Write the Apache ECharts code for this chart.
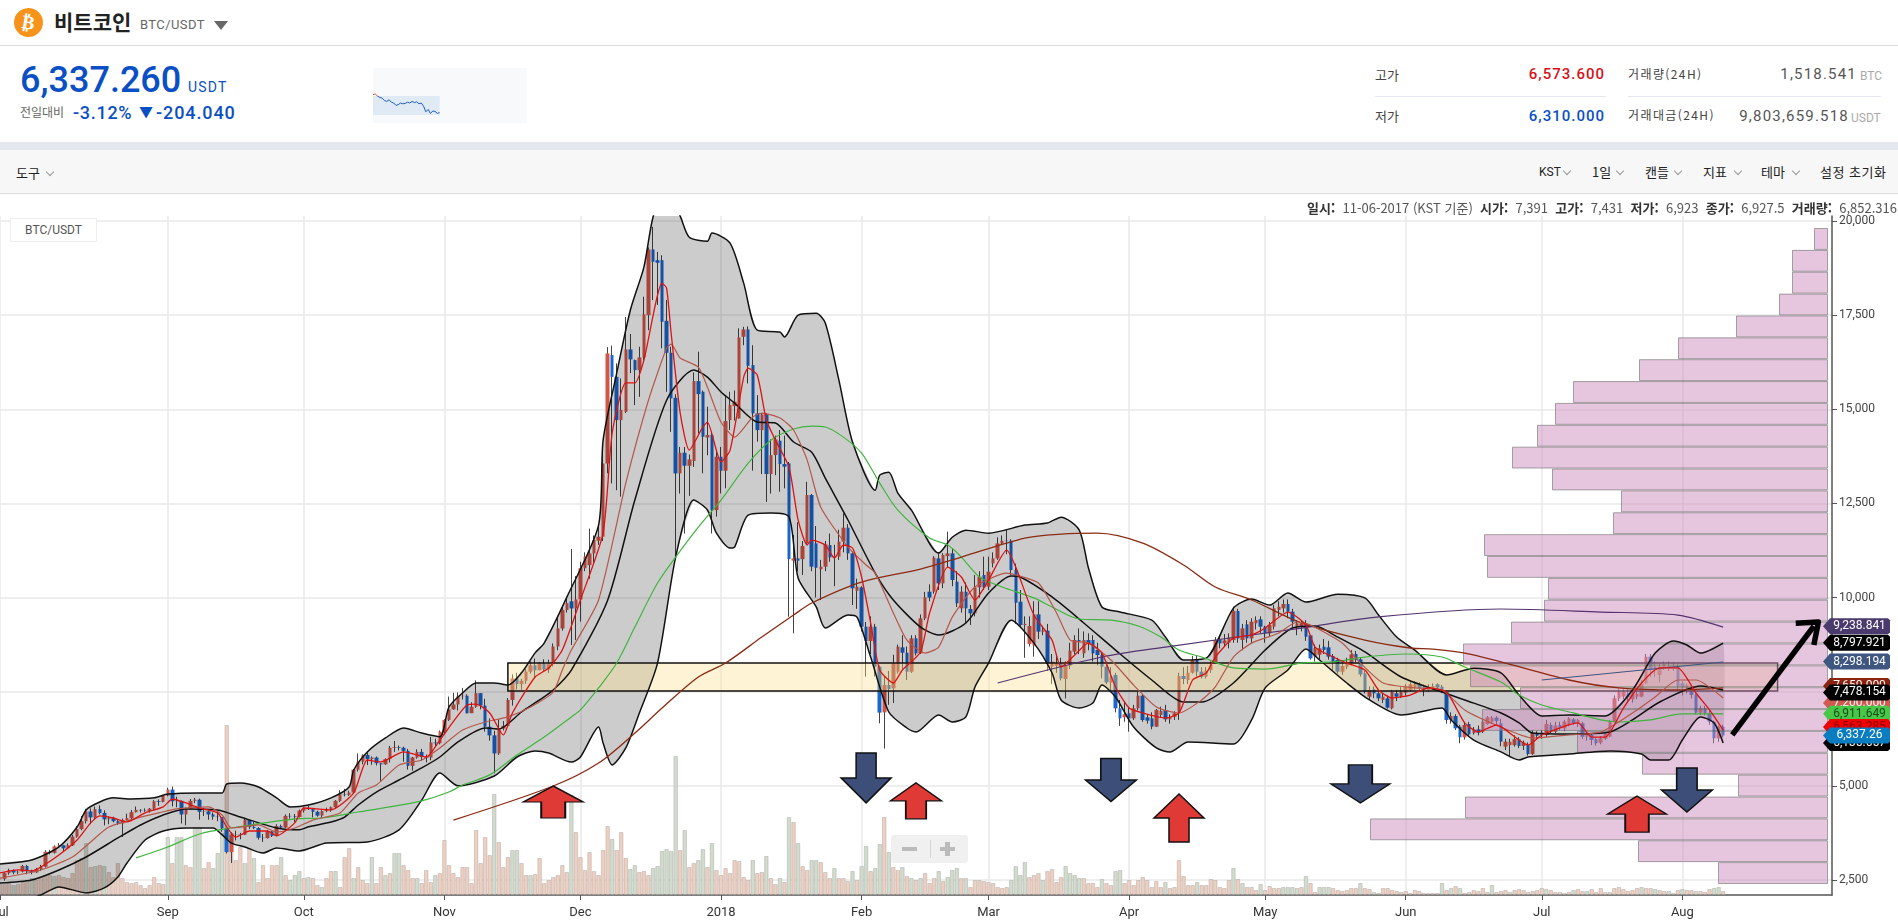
<!DOCTYPE html>
<html lang="ko"><head><meta charset="utf-8"><title>BTC/USDT</title>
<script src="https://cdn.jsdelivr.net/npm/echarts@6/dist/echarts.min.js"></script>
<style>
html,body{margin:0;padding:0;width:1898px;height:921px;overflow:hidden;background:#fff;font-family:Roboto,"Noto Sans CJK KR",sans-serif;color:#333}
#main{position:absolute;left:0;top:0;width:1898px;height:921px}
.a{position:absolute;white-space:nowrap;line-height:1}
.kr{font-family:"Noto Sans CJK KR",sans-serif}
.chev{position:absolute;width:5px;height:5px;border-right:1px solid #999;border-bottom:1px solid #999;transform:rotate(45deg)}
</style></head><body>
<div id="main"></div>
<div class="a" style="left:0;top:0;width:1898px;height:142px;background:#fff"></div>
<div class="a" style="left:0;top:45px;width:1898px;height:1px;background:#dcdcdc"></div>
<div class="a" style="left:14px;top:8px;width:29px;height:29px;border-radius:50%;background:#f7931a;color:#fff;font:bold 19px/29px 'DejaVu Sans';text-align:center;transform:rotate(10deg)">₿</div>
<div class="a kr" style="left:54px;top:11px;font-size:21px;font-weight:700;color:#222">비트코인</div>
<div class="a" style="left:140px;top:18px;font-size:13px;color:#666;letter-spacing:.4px">BTC/USDT</div>
<div class="a" style="left:214px;top:21px;width:0;height:0;border-left:7px solid transparent;border-right:7px solid transparent;border-top:9px solid #666"></div>
<div class="a" style="left:20px;top:62px;font-size:36px;font-weight:500;color:#0b4fc4">6,337.260</div>
<div class="a" style="left:188px;top:80px;font-size:14px;color:#0b4fc4;letter-spacing:1.2px">USDT</div>
<div class="a kr" style="left:20px;top:106px;font-size:12px;color:#666">전일대비</div>
<div class="a" style="left:73px;top:104px;font-size:18px;font-weight:500;color:#0b4fc4;letter-spacing:.7px">-3.12%</div>
<div class="a" style="left:139px;top:105px;font-size:14px;color:#0b4fc4">▼</div>
<div class="a" style="left:156px;top:104px;font-size:18px;font-weight:500;color:#0b4fc4;letter-spacing:.9px">-204.040</div>
<div id="spark" class="a" style="left:373px;top:68px;width:154px;height:55px"></div>
<div class="a kr" style="left:1375px;top:68px;font-size:13px;color:#444">고가</div>
<div class="a" style="left:1500px;width:105px;text-align:right;top:67px;font-size:15px;font-weight:500;color:#d6121a;letter-spacing:1px">6,573.600</div>
<div class="a" style="left:1375px;top:96px;width:231px;height:1px;background:#e4e6f0"></div>
<div class="a kr" style="left:1375px;top:109px;font-size:13px;color:#444">저가</div>
<div class="a" style="left:1500px;width:105px;text-align:right;top:109px;font-size:15px;font-weight:500;color:#0b4fc4;letter-spacing:1px">6,310.000</div>
<div class="a kr" style="left:1628px;top:68px;font-size:12px;color:#444;letter-spacing:1.4px">거래량(24H)</div>
<div class="a" style="left:1740px;width:117px;text-align:right;top:67px;font-size:15px;color:#555;letter-spacing:1.2px">1,518.541</div>
<div class="a" style="left:1860px;top:70px;font-size:12px;color:#aaa">BTC</div>
<div class="a" style="left:1628px;top:96px;width:253px;height:1px;background:#e4e6f0"></div>
<div class="a kr" style="left:1628px;top:109px;font-size:12px;color:#444;letter-spacing:1.4px">거래대금(24H)</div>
<div class="a" style="left:1720px;width:129px;text-align:right;top:109px;font-size:15px;color:#555;letter-spacing:1.2px">9,803,659.518</div>
<div class="a" style="left:1851px;top:112px;font-size:12px;color:#aaa">USDT</div>
<div class="a" style="left:0;top:142px;width:1898px;height:8px;background:#e4e8ee"></div>
<div class="a" style="left:0;top:150px;width:1898px;height:43px;background:#f7f7f7;border-bottom:1px solid #ddd"></div>
<div class="a kr" style="left:16px;top:166px;font-size:13px;color:#222">도구</div><div class="chev" style="left:47px;top:169px"></div>
<div class="a" style="left:1539px;top:166px;font-size:12px;color:#222">KST</div><div class="chev" style="left:1564px;top:168px"></div>
<div class="a kr" style="left:1592px;top:165px;font-size:13px;color:#222">1일</div><div class="chev" style="left:1617px;top:168px"></div>
<div class="a kr" style="left:1645px;top:165px;font-size:13px;color:#222">캔들</div><div class="chev" style="left:1675px;top:168px"></div>
<div class="a kr" style="left:1703px;top:165px;font-size:13px;color:#222">지표</div><div class="chev" style="left:1735px;top:168px"></div>
<div class="a kr" style="left:1761px;top:165px;font-size:13px;color:#222">테마</div><div class="chev" style="left:1793px;top:168px"></div>
<div class="a kr" style="left:1820px;top:165px;font-size:13px;color:#222;letter-spacing:.5px">설정 초기화</div>
<div class="a kr" style="right:1px;top:201px;font-size:13px;color:#555"><b style="color:#333">일시:</b>&nbsp; 11-06-2017 (KST 기준) &nbsp;<b style="color:#333">시가:</b>&nbsp; 7,391 &nbsp;<b style="color:#333">고가:</b>&nbsp; 7,431 &nbsp;<b style="color:#333">저가:</b>&nbsp; 6,923 &nbsp;<b style="color:#333">종가:</b>&nbsp; 6,927.5 &nbsp;<b style="color:#333">거래량:</b>&nbsp; 6,852.316</div>
<div class="a" style="left:10px;top:218px;width:85px;height:22px;background:#fff;border:1px solid #eee;font-size:12px;line-height:22px;text-align:center;color:#555">BTC/USDT</div>
<div class="a" style="left:891px;top:835px;width:77px;height:28px;background:rgba(225,225,225,.5);border-radius:3px"></div>
<div class="a" style="left:902px;top:847px;width:15px;height:4px;background:#bbb"></div>
<div class="a" style="left:930px;top:840px;width:1px;height:18px;background:#d4d4d4"></div>
<div class="a" style="left:940px;top:847px;width:15px;height:4px;background:#bbb"></div>
<div class="a" style="left:945px;top:842px;width:5px;height:14px;background:#bbb"></div>
<script>
// ---- axes ----
const firstDay = '2017-07-26';
const dayCount = 405;
const monthTickDays = [0, 37, 67, 98, 128, 159, 190, 218, 249, 279, 310, 340, 371];
const monthTickLabels = ['Jul','Sep','Oct','Nov','Dec','2018','Feb','Mar','Apr','May','Jun','Jul','Aug'];
const priceTicks = [2500,5000,7500,10000,12500,15000,17500,20000];
const priceMin = 2100, priceMax = 20133;

// ---- candles: [open, close, low, high], month by month ----
const candlesJul17 = [[2520,2530,2450,2610],[2530,2680,2480,2700],[2680,2760,2640,2800],[2760,2700,2650,2780],[2700,2720,2660,2760],[2720,2870,2700,2900]];
const candlesAug17 = [[2870,2730,2650,2900],[2730,2700,2650,2770],[2700,2790,2690,2820],[2790,2850,2740,2900],[2850,3250,2830,3290],[3250,3220,3180,3300],[3220,3390,3200,3420],[3390,3420,3360,3480],[3420,3340,3250,3430],[3340,3420,3320,3470],[3420,3650,3400,3700],[3650,3850,3620,3930],[3850,4060,3820,4200],[4060,4320,4000,4390],[4320,4160,3980,4400],[4160,4380,4120,4450],[4380,4280,4240,4480],[4280,4110,3950,4350],[4110,4140,3980,4190],[4140,4060,4030,4180],[4060,4000,3960,4090],[4000,4090,3640,4130],[4090,4140,4080,4260],[4140,4300,4110,4360],[4300,4360,4290,4450],[4360,4350,4290,4380],[4350,4340,4310,4400],[4340,4390,4290,4410],[4390,4590,4360,4620],[4590,4570,4470,4640],[4570,4740,4560,4760]];
const candlesSep17 = [[4740,4900,4720,4950],[4900,4590,4450,4980],[4590,4600,4430,4710],[4600,4240,4000,4610],[4240,4390,3950,4430],[4390,4600,4380,4650],[4600,4630,4540,4680],[4630,4310,4100,4660],[4310,4320,4200,4400],[4320,4240,4100,4340],[4240,4180,4100,4290],[4180,4170,4060,4340],[4170,3870,3780,4170],[3870,3240,3200,3880],[3240,3700,2950,3760],[3700,3710,3550,3810],[3710,3700,3580,3750],[3700,4090,3690,4120],[4090,3910,3850,4100],[3910,3880,3850,4040],[3880,3620,3570,3900],[3620,3610,3510,3720],[3610,3790,3600,3820],[3790,3670,3640,3790],[3670,3930,3660,3980],[3930,3890,3860,3970],[3890,4200,3880,4240],[4200,4190,4130,4270],[4190,4170,4040,4250],[4170,4340,4160,4370]];
const candlesOct17 = [[4340,4400,4290,4430],[4400,4380,4360,4470],[4380,4310,4160,4400],[4310,4210,4180,4340],[4210,4330,4140,4350],[4330,4370,4300,4420],[4370,4430,4310,4450],[4430,4600,4410,4620],[4600,4770,4570,4880],[4770,4760,4720,4920],[4760,4820,4730,4870],[4820,5430,4810,5440],[5430,5640,5380,5860],[5640,5820,5570,5840],[5820,5710,5550,5880],[5710,5750,5560,5780],[5750,5600,5540,5780],[5600,5570,5110,5600],[5570,5710,5560,5730],[5710,6010,5620,6060],[6010,6030,5900,6190],[6030,6010,5940,6070],[6010,5930,5640,6040],[5930,5530,5430,5980],[5530,5750,5400,5770],[5750,5900,5720,5970],[5900,5770,5670,5980],[5770,5750,5620,5830],[5750,6150,5680,6300],[6150,6130,6040,6250],[6130,6440,6100,6470]];
const candlesNov17 = [[6440,6750,6360,6770],[6750,7030,6720,7370],[7030,7160,7020,7470],[7160,7380,7000,7480],[7380,7391,7290,7600],[7391,6927.5,6923,7431],[6930,7100,6930,7220],[7100,7460,7070,7800],[7460,7130,7030,7460],[7130,6570,6440,7310],[6570,6340,6200,6790],[6340,5860,5330,6460],[5860,6520,5820,6760],[6520,6590,6470,6720],[6590,7280,6590,7330],[7280,7850,7130,7960],[7850,7700,7560,8000],[7700,7790,7550,7840],[7790,8030,7710,8100],[8030,8200,7980,8300],[8200,8070,7880,8380],[8070,8250,8070,8290],[8250,8090,8020,8360],[8090,8230,8000,8350],[8230,8700,8170,8780],[8700,9180,8600,9500],[9180,9670,9120,9750],[9670,9850,9600,9990],[9900,9710,8740,11290],[9710,9950,8870,10570]];
const candlesDec17 = [[9950,10780,9360,10950],[10780,11085,10700,11200],[10860,11170,10500,11830],[11170,11530,10900,11650],[11510,11616,11400,11900],[11616,13560,11500,13950],[13560,16483,13300,16650],[16440,15860,13030,16690],[15860,14713,12850,16220],[14713,14980,12680,15820],[14934,16590,14900,17450],[16590,16324,15960,17000],[16306,16040,15110,16320],[16040,16377,15330,16660],[16377,17518,16300,17990],[17500,19244,17100,19300],[19244,18917,17900,19845],[18960,18890,17770,19180],[18960,17324,16620,19090],[17350,16500,15465,17900],[16500,15290,14400,16660],[15306,13297,11085,15400],[13297,13846,12760,14000],[13846,13500,11700,14000],[13500,13669,12700,13800],[13625,15748,13470,15980],[15748,15403,14360,16530],[15465,14270,13300,15500],[14253,14315,13780,15070],[14315,12323,11700,14400],[12323,13740,12150,13900]];
const candlesJan18 = [[13740,13368,12765,14000],[13368,14686,12900,15375],[14713,15111,14450,15465],[15085,15200,14700,15500],[14757,16908,14750,17150],[16925,17120,16700,17190],[17120,16155,15687,17200],[16173,14890,13370,16700],[14890,14447,14140,15375],[14447,14863,13280,14900],[14863,13280,12540,14900],[13280,13784,12760,14200],[13784,14200,13250,14300],[14165,13545,12810,14450],[13545,13475,12900,14300],[13563,11020,9490,13600],[10980,11040,9050,11660],[11040,10980,10700,12000],[11020,11368,10600,11500],[11440,12722,11400,13075],[12722,10820,10700,12750],[11440,10790,10000,11900],[10750,10820,9934,11000],[10820,11412,10700,11500],[11394,11067,10950,11700],[11067,11100,10300,11400],[11085,11483,11000,11800],[11483,11855,11200,12234],[11855,11173,11000,11950],[11173,10245,9800,11200],[10180,10290,9700,10500]];
const candlesFeb18 = [[10270,9226,9100,10300],[9226,8845,7900,9350],[8845,9226,8500,9500],[9226,8164,7900,9300],[8164,6943,6660,8200],[6950,7677,5990,7900],[7677,7570,7150,8050],[7589,8250,7200,8480],[8030,8695,7980,8750],[8677,8535,8100,9000],[8535,8030,7810,8700],[8030,8916,8000,9000],[8916,8518,8460,9000],[8518,9447,8500,9550],[9447,10005,9400,10150],[10155,10000,9900,10350],[10155,11058,10100,11100],[11040,10376,10200,11200],[10376,11129,10250,11180],[11100,11173,10800,11750],[11173,10465,10300,11300],[10420,9846,9750,10700],[9713,10155,9600,10300],[10155,9713,9300,10400],[9695,9580,9270,9800],[9580,10270,9500,10600],[10270,10553,10000,10700],[10598,10270,10200,11085]];
const candlesMar18 = [[10288,10686,10200,11085],[10907,11040,10800,11200],[11040,11438,11000,11600],[11438,11509,11400,11650],[11509,11500,11150,11800],[11509,10730,10600,11550],[10730,9863,9300,10900],[9890,9270,9200,10200],[9270,9300,8400,9500],[8766,9244,8700,9500],[8722,9553,8430,9900],[9553,9093,8900,9900],[9093,9130,9000,9250],[9120,8250,8050,9300],[8164,8297,7700,8500],[8190,8250,8000,8500],[8250,7855,7800,8400],[7836,8190,7320,8300],[8190,8589,8100,8800],[8562,8872,8500,9000],[8872,8830,8500,9180],[8518,8872,8400,9100],[8872,8783,8600,9050],[8872,8518,8300,9000],[8607,8474,8200,8800],[8474,8164,7854,8550],[8164,7748,7700,8300],[7740,7898,7500,8150],[7943,7058,6950,8000],[7058,6792,6590,7280],[6820,6898,6700,7250]];
const candlesApr18 = [[6925,6792,6438,7100],[6792,7058,6750,7150],[7058,7394,7000,7500],[7394,6748,6700,7420],[6819,6730,6650,6900],[6792,6571,6500,6950],[6571,7013,6560,7040],[6881,6987,6800,7100],[7013,6766,6700,7150],[6766,6819,6650,6900],[6836,6925,6750,6980],[6970,7916,6750,8000],[7916,7836,7700,8150],[7810,8005,7700,8180],[8005,8341,7980,8450],[8359,8031,7900,8450],[8031,7898,7850,8150],[7898,8058,7850,8150],[8075,8208,8000,8300],[8270,8872,8250,8950],[8872,8783,8650,9000],[8783,8860,8700,9030],[8801,8943,8650,9050],[8872,9642,8800,9760],[9642,8916,8800,9700],[8872,9182,8600,9300],[9288,8916,8800,9400],[8916,9359,8800,9450],[9314,9403,9150,9500],[9421,9226,9050,9500]];
const candlesMay18 = [[9226,9049,8800,9250],[9049,9270,8950,9350],[9226,9713,9150,9800],[9668,9757,9500,9900],[9713,9828,9600,9950],[9828,9624,9450,9950],[9624,9359,9200,9700],[9226,9314,9000,9400],[9226,9314,9100,9400],[9314,8960,8850,9400],[8995,8385,8350,9000],[8430,8650,8300,8750],[8480,8650,8350,8750],[8695,8607,8500,8900],[8677,8430,8350,8850],[8447,8297,8050,8500],[8341,8031,7980,8400],[8031,8182,7950,8280],[8164,8250,8100,8400],[8250,8491,8200,8600],[8500,8341,8280,8580],[8359,7960,7900,8400],[7987,7500,7450,8050],[7368,7545,7280,7640],[7562,7456,7330,7640],[7456,7323,7250,7500],[7279,7368,7200,7450],[7323,7075,7050,7400],[7058,7500,7030,7550],[7456,7368,7250,7550],[7368,7500,7330,7620]];
const candlesJun18 = [[7474,7633,7400,7700],[7545,7695,7500,7750],[7610,7695,7550,7780],[7695,7589,7500,7750],[7620,7545,7380,7690],[7545,7600,7500,7700],[7600,7650,7550,7720],[7695,7610,7540,7720],[7633,7545,7470,7680],[7500,6748,6650,7520],[6748,6854,6650,6950],[6854,6527,6480,6900],[6571,6288,6128,6620],[6288,6615,6230,6700],[6642,6367,6300,6700],[6400,6500,6360,6560],[6500,6412,6340,6600],[6438,6704,6400,6780],[6642,6819,6620,6850],[6690,6810,6650,6850],[6810,6720,6630,6850],[6660,6173,6050,6780],[6040,6173,5950,6250],[6080,6170,5760,6250],[6080,6240,6040,6340],[6235,6058,6000,6290],[6058,6145,5950,6200],[6084,5845,5800,6150],[5845,6394,5820,6480],[6394,6330,6250,6450]];
const candlesJul18 = [[6412,6350,6250,6480],[6350,6642,6300,6750],[6615,6438,6400,6680],[6438,6600,6400,6700],[6615,6527,6470,6700],[6527,6704,6450,6750],[6615,6792,6580,6820],[6765,6660,6620,6800],[6640,6750,6560,6770],[6660,6305,6250,6700],[6305,6390,6200,6420],[6350,6217,6080,6400],[6235,6130,6070,6280],[6146,6261,6100,6320],[6250,6380,6220,6420],[6305,6704,6290,6750],[6704,7323,6680,7400],[7323,7500,7250,7600],[7367,7500,7300,7600],[7450,7350,7250,7570],[7297,7456,7210,7560],[7367,7440,7300,7520],[7367,7721,7350,7800],[7721,8430,7700,8500],[8430,8075,7900,8500],[8170,8075,7900,8300],[7943,8146,7750,8250],[8120,8235,8080,8300],[8182,8120,8050,8300],[8120,8182,8050,8280],[8182,7633,7550,8230]];
const candlesAug18 = [[7721,7633,7400,7780],[7590,7680,7450,7720],[7589,7412,7320,7620],[7412,6943,6900,7450],[6943,7058,6880,7120],[7058,6925,6870,7120],[6925,6704,6620,7000],[6704,6261,6130,6730],[6261,6571,6170,6600],[6571,6337.26,6290,6620]];
const candleMonths = [candlesJul17,candlesAug17,candlesSep17,candlesOct17,candlesNov17,candlesDec17,candlesJan18,candlesFeb18,candlesMar18,candlesApr18,candlesMay18,candlesJun18,candlesJul18,candlesAug18];

// ---- volume, in lots of 245 BTC ----
const volumes = [11,11,12,10,11,13,15,17,15,18,20,20,19,20,18,17,22,35,37,52,28,29,30,29,23,18,32,17,13,12,13,10,7,10,18,12,11,
58,32,58,58,30,28,68,68,27,33,27,42,62,170,62,35,48,32,47,37,13,30,17,30,30,38,20,15,20,24,
17,18,17,10,8,17,24,24,8,38,47,17,28,15,12,38,12,28,20,22,42,42,30,25,17,17,12,25,13,20,22,
55,30,22,18,28,28,12,65,32,58,40,101,53,28,38,45,45,32,20,20,21,37,12,15,18,20,30,23,100,63,
38,25,43,24,20,45,69,56,45,63,37,26,30,23,24,20,27,29,44,46,44,139,45,65,28,32,35,46,28,52,25,
20,27,22,35,34,18,15,35,22,23,39,17,11,17,13,78,73,52,29,25,35,35,33,23,17,27,17,17,14,24,15,
29,49,24,27,51,78,43,28,25,28,19,17,15,17,22,12,17,24,14,18,25,27,17,17,8,15,15,14,
13,12,8,7,8,15,29,20,33,18,20,22,15,24,26,13,18,29,22,20,17,17,12,12,8,16,12,10,24,25,12,
15,10,15,18,15,8,14,8,13,7,8,35,19,10,10,13,10,10,16,15,8,7,15,27,16,12,8,8,5,11,
5,9,7,7,8,8,8,7,8,19,12,3,8,8,8,7,5,4,5,7,7,12,7,6,3,2,7,7,5,4,3,
4,2,5,4,2,2,2,2,12,5,7,9,7,2,3,5,4,7,3,10,3,4,5,3,5,6,5,3,4,5,
7,6,5,3,3,2,3,5,6,4,4,6,3,7,3,3,7,8,6,4,5,7,8,7,7,6,5,4,4,2,5,
6,5,5,4,4,3,6,7,8,4];
const greenVolumeDays = [3,7,12,19,21,23,37,39,40,43,44,47,48,49,54,56,62,64,65,66,68,71,74,78,82,85,87,88,92,96,109,113,114,117,126,135,139,140,144,145,146,147,148,149,151,154,155,157,166,169,172,174,176,179,180,184,188,190,191,193,194,196,199,201,203,207,209,210,211,213,223,224,225,226,230,235,236,237,238,243,246,247,257,264,272,274,278,283,284,285,286,288,291,292,293,300,303,318,320,322,329,333,341,345,347,350,355,362,365,368,371,374,378,379];

const bbUpper = [[0,2925],[7,3030],[13,3380],[17,3905],[19,4360],[22,4570],[25,4680],[29,4650],[34,4680],[37,4780],[44,4810],[49,4810],[50,5050],[53,5075],[57,4970],[61,4680],[64,4440],[68,4490],[73,4680],[77,4970],[78,5420],[81,5900],[85,6270],[89,6535],[93,6400],[97,6300],[99,7090],[102,7465],[105,7730],[109,7730],[112,7675],[115,8000],[118,8530],[120,8790],[125,10010],[132,11925],[133,14180],[136,15960],[139,17630],[142,18775],[144,20100],[146,20550],[148,20550],[150,20130],[152,19570],[156,19460],[157,19680],[161,19410],[164,18350],[167,17100],[172,17050],[173,16920],[176,17500],[180,17550],[182,17290],[185,15775],[188,14130],[193,12850],[194,13250],[196,13330],[198,12775],[201,12320],[207,11180],[210,11600],[213,11790],[218,11710],[226,11925],[231,11980],[234,12135],[238,11790],[240,10800],[243,9750],[247,9615],[254,9400],[257,8950],[261,8340],[266,8390],[272,9720],[276,9960],[280,9800],[284,10120],[288,9880],[295,10090],[301,9990],[304,9535],[308,8950],[312,8605],[319,7945],[325,8125],[331,8000],[335,7410],[340,6855],[346,6880],[354,6855],[360,7545],[365,8525],[369,8845],[372,8740],[375,8525],[380,8790]];
const bbLower = [[0,1700],[9,2100],[13,2315],[19,2155],[23,2290],[26,2580],[28,2950],[32,3560],[36,3800],[41,3880],[47,3880],[49,3695],[51,3480],[54,3375],[58,3215],[61,3350],[66,3270],[72,3480],[81,3510],[88,3830],[93,4620],[97,5340],[101,5000],[109,5260],[114,5765],[118,5925],[121,5870],[126,5630],[128,5765],[132,6560],[133,6135],[135,5555],[138,6005],[141,6935],[145,8260],[149,11075],[153,12590],[156,12325],[158,11710],[161,11315],[162,11340],[165,12190],[170,12245],[174,12140],[176,10520],[180,9750],[182,9190],[187,9535],[189,9480],[192,8420],[196,6960],[200,6535],[202,6430],[207,6880],[210,6695],[213,6830],[215,7625],[218,8260],[223,9400],[228,8790],[232,7995],[234,7280],[238,7065],[241,7200],[243,7675],[246,7360],[250,6560],[255,6005],[258,5900],[262,6165],[272,6110],[276,6750],[279,7600],[284,8075],[288,8630],[291,8340],[297,7730],[302,7280],[309,6880],[318,7065],[320,6750],[325,6215],[331,5900],[335,5685],[337,5765],[346,5845],[355,5925],[362,5845],[364,5685],[368,5685],[371,6215],[375,6830],[378,6670],[380,6135]];
const bbMiddle = [[0,2420],[7,2500],[13,2765],[19,3110],[26,3615],[31,3960],[36,4225],[41,4385],[48,4360],[53,4170],[61,3880],[66,3830],[68,3910],[73,4040],[76,4170],[79,4490],[83,4835],[88,5155],[93,5475],[97,5765],[101,6165],[107,6535],[110,6510],[115,6960],[119,7280],[122,7545],[126,8075],[134,9930],[140,12590],[147,15240],[153,16040],[156,15855],[159,15460],[162,15165],[167,14660],[171,14635],[175,14130],[179,13860],[182,13170],[187,12060],[193,10650],[197,9935],[203,9215],[207,9005],[213,9325],[218,10120],[223,10570],[225,10545],[232,10015],[239,9325],[246,8605],[254,7810],[261,7225],[265,7225],[272,7730],[279,8605],[285,9190],[290,9245],[295,8950],[301,8555],[309,7890],[318,7490],[323,7280],[331,6935],[335,6670],[338,6400],[346,6375],[355,6430],[360,6750],[366,7225],[375,7650],[380,7545]];
const maFast = [[0,2685],[4,2765],[7,2740],[9,2845],[13,3165],[17,3560],[20,4015],[22,4200],[25,4145],[28,4040],[32,4280],[36,4440],[38,4650],[41,4545],[44,4410],[48,4280],[50,3905],[52,3640],[55,3800],[59,3800],[61,3670],[65,4015],[67,4410],[73,4360],[78,4810],[81,5685],[84,5635],[89,5900],[94,5765],[97,6215],[103,7145],[105,7170],[108,6935],[111,6350],[113,6935],[118,7890],[121,8130],[124,8605],[128,9935],[133,11710],[135,14370],[138,15700],[140,15700],[142,16305],[146,18350],[147,18220],[148,17025],[150,14900],[152,13915],[155,14530],[156,14660],[159,13600],[161,13915],[164,15855],[165,16095],[167,15905],[169,14715],[171,14180],[174,13465],[176,12060],[178,11395],[179,11525],[182,11395],[184,11050],[186,11395],[188,11315],[190,10545],[192,9325],[194,8075],[197,7730],[199,8075],[203,8555],[205,9590],[209,10810],[212,10545],[215,9935],[218,10465],[222,11260],[224,10810],[228,9535],[232,8870],[234,8155],[237,8475],[240,8790],[243,8525],[246,7625],[249,7065],[252,6935],[257,6800],[260,6935],[263,7810],[266,7995],[268,8420],[272,8925],[276,9005],[279,9190],[284,9615],[288,9270],[290,8685],[294,8420],[297,8260],[301,8075],[304,7545],[307,7330],[311,7410],[315,7600],[319,7490],[323,6670],[326,6430],[330,6615],[337,6085],[340,6350],[348,6670],[351,6295],[354,6295],[358,7065],[362,7730],[366,8130],[370,8130],[374,7465],[377,7015],[380,6480]];
const maSlow = [[0,2550],[9,2765],[16,3110],[21,3615],[24,3905],[31,4170],[35,4280],[39,4385],[46,4440],[49,4225],[51,3880],[57,3960],[61,3775],[65,3880],[69,4090],[75,4280],[79,4810],[83,5020],[88,5555],[93,5685],[97,6005],[102,6480],[107,6695],[112,6830],[117,7095],[122,7490],[124,8075],[126,8605],[132,9935],[138,13040],[143,15240],[147,16625],[148,16730],[150,16360],[154,16120],[156,15590],[159,14660],[162,14260],[166,14795],[168,14900],[172,14770],[175,14450],[178,13650],[181,12400],[187,11340],[191,10865],[193,10650],[197,9590],[200,8870],[204,8525],[207,8685],[210,9480],[215,10280],[222,10650],[224,10600],[229,10385],[233,9590],[236,8870],[240,8790],[245,8340],[250,7675],[255,7095],[260,6935],[265,7280],[268,7625],[272,8420],[276,8790],[282,9060],[286,9350],[289,9270],[296,8790],[300,8260],[305,7730],[312,7600],[318,7545],[323,7015],[331,6560],[338,6270],[346,6350],[353,6430],[360,6935],[365,7360],[370,7810],[374,7810],[380,7330]];
const maGreen = [[30,3085],[37,3375],[44,3720],[51,3880],[65,4120],[71,4145],[79,4305],[86,4440],[93,4600],[99,4835],[102,5020],[108,5290],[114,5820],[120,6295],[126,6830],[128,7015],[132,7600],[136,8260],[140,9215],[145,10385],[149,11075],[154,11870],[159,12590],[165,13570],[170,14180],[175,14475],[179,14555],[182,14530],[186,14260],[190,13835],[194,13040],[198,12320],[205,11580],[209,11395],[212,11075],[216,10545],[221,10280],[228,9990],[232,9750],[238,9430],[245,9400],[251,9245],[256,8950],[260,8605],[265,8420],[272,8130],[279,8100],[287,8260],[294,8290],[301,8420],[310,8500],[318,8420],[323,8155],[331,7755],[335,7410],[340,7145],[347,6935],[353,6750],[357,6695],[364,6750],[371,6910],[380,6910]];
const maDarkRed = [[100,4090],[122,4995],[132,5605],[140,6400],[146,7065],[154,7890],[160,8260],[168,8950],[175,9535],[179,9855],[190,10410],[203,10755],[212,11075],[226,11580],[234,11685],[242,11710],[252,11445],[261,10865],[268,10280],[276,9935],[287,9325],[301,8870],[311,8660],[316,8630],[323,8525],[331,8290],[346,7810],[357,7600],[370,7545],[380,7600]];
const maPurple = [[220,7730],[243,8420],[257,8685],[287,9190],[304,9485],[331,9695],[353,9615],[370,9535],[380,9215]];
const maNavy = [[340,7810],[380,8290]];

// ---- volume profile (right), from lowest bin to highest ----
const profileBins = ['2.4k','3.0k','3.6k','4.1k','4.7k','5.3k','5.9k','6.5k','7.0k','7.6k','8.2k','8.8k','9.4k','9.9k','10.5k','11.1k','11.7k','12.3k','12.8k','13.4k','14.0k','14.6k','15.2k','15.7k','16.3k','16.9k','17.5k','18.1k','18.6k','19.2k'];
const profileVolumes = [110,190,458,363,90,186,251,346,308,358,365,317,284,280,341,344,215,207,276,316,291,273,255,189,150,92,49,36,36,14];

// ---- hand-drawn annotations ----
const upArrows = [[122,4570],[202,4600],[260,4145],[361,4250]];
const upArrowSizes = [[60,32],[51,36],[50,48],[59,36]];
const downArrows = [[191,5210],[245,5155],[300,5050],[372,4890]];
const downArrowSizes = [[50,50],[51,43],[59,38],[51,44]];
const supportZone = [[112,392,7519,8262]];
const bigArrowShaft = [[382,6350],[400,9240]];
const bigArrowHead = [[396,9320],[401,9350],[400,8740]];

// ---- last-price tags ----
const tagValues = [9238.841,8797.921,8298.194,7650,7200,7478.154,6911.649,6563.285,6135.657,6337.26];
const tagTexts = ['9,238.841','8,797.921','8,298.194','7,650.000','7,200.000','7,478.154','6,911.649','6,563.285','6,135.657','6,337.26'];
const tagFills = ['#4a3a6e','#000000','#3f5680','#8a2410','#d05a50','#000000','#48c848','#f00000','#000000','#0a7cc0'];
const tagInk = ['#fff','#fff','#fff','#fff','#fff','#fff','#1c4a1c','#8a0000','#fff','#fff'];

// ---- header sparkline ----
const sparkRed = [6565,6573,6545];
const sparkBlue = [null,null,6545,6530,6520,6490,6480,6500,6470,6460,6430,6440,6460,6450,6455,6470,6460,6480,6465,6475,6450,6460,6420,6350,6380,6330,6360,6355,6330,6340];

// ---- build ----
const candles = [].concat(...candleMonths);
const bodies = candles.map(c => [c[0], c[1], Math.min(c[0],c[1]), Math.max(c[0],c[1])]);
const start = new Date(firstDay + 'T00:00:00Z');
const categories = Array.from({length: dayCount}, (_, i) => new Date(start.getTime() + i*864e5).toISOString().slice(0,10));
const tickIdx = new Map(monthTickDays.map((d,i)=>[d,monthTickLabels[i]]));
const isTick = i => tickIdx.has(i);
const greens = new Set(greenVolumeDays);
const lineS = (name,data,color,width,smooth,z) => ({name,type:'line',data,showSymbol:false,symbol:'none',smooth,z:z||8,silent:true,lineStyle:{color,width,join:'round'},xAxisIndex:0,yAxisIndex:0});

const chart = echarts.init(document.getElementById('main'), null, {renderer:'canvas'});
chart.setOption({
  animation:false,
  textStyle:{fontFamily:'Roboto, "Noto Sans CJK KR", sans-serif'},
  grid:[
    {left:0,right:66,top:216,bottom:26,containLabel:false,outerBoundsMode:'none'},
    {left:0,right:70,top:228,bottom:37,outerBoundsMode:'none'}
  ],
  xAxis:[
    {type:'category',gridIndex:0,data:categories,boundaryGap:false,
     axisLine:{lineStyle:{color:'#555',width:1.5}},
     axisTick:{interval:isTick,length:5,lineStyle:{color:'#555'}},
     axisLabel:{interval:isTick,formatter:(v,i)=>tickIdx.get(i)||'',color:'#333',fontSize:13,margin:11,hideOverlap:false},
     splitLine:{show:true,interval:isTick,lineStyle:{color:'#e8e8e8',width:1.5}}},
    {type:'value',gridIndex:1,inverse:true,min:0,max:1828,show:false}
  ],
  yAxis:[
    {type:'value',gridIndex:0,position:'right',min:priceMin,max:priceMax,
     axisLine:{show:true,lineStyle:{color:'#555',width:1.5}},
     axisTick:{show:true,length:5,lineStyle:{color:'#555'},customValues:priceTicks},
     axisLabel:{color:'#444',fontSize:12,margin:7,customValues:priceTicks,formatter:v=>v.toLocaleString('en-US')},
     splitLine:{show:true,lineStyle:{color:'#e8e8e8',width:1.5}}},
    {type:'value',gridIndex:0,min:0,max:679,show:false,splitLine:{show:false}},
    {type:'category',gridIndex:1,data:profileBins,show:false}
  ],
  series:[
    {name:'volume',type:'bar',xAxisIndex:0,yAxisIndex:1,z:1,barWidth:4.5,silent:true,
     data:volumes.map((v,i)=>({value:v,itemStyle:{color:greens.has(i)?'#d2dccc':'#efcfc0'}})),
     itemStyle:{borderColor:'rgba(130,130,130,.3)',borderWidth:1}},
    {name:'wicks',type:'candlestick',xAxisIndex:0,yAxisIndex:0,z:2,barWidth:1,silent:true,data:candles,
     itemStyle:{color:'#444',color0:'#444',borderColor:'#444',borderColor0:'#444',borderWidth:1}},
    {name:'candles',type:'candlestick',xAxisIndex:0,yAxisIndex:0,z:3,barWidth:4,silent:true,data:bodies,
     itemStyle:{color:'#d25648',color0:'#1a66cc',borderColor:'#d25648',borderColor0:'#1a66cc',borderWidth:0}},
    {name:'bollinger band',type:'custom',xAxisIndex:0,yAxisIndex:0,z:4,silent:true,clip:true,data:[[0,0]],
     renderItem:(p,api)=>{
       const up = bbUpper.map(d=>api.coord(d)), lo = bbLower.slice().reverse().map(d=>api.coord(d));
       return {type:'polygon',shape:{points:up.concat(lo),smooth:0.15},style:{fill:'rgba(0,0,0,.2)',stroke:null}};
     }},
    {name:'support zone',type:'custom',xAxisIndex:0,yAxisIndex:0,z:5,silent:true,data:supportZone,
     encode:{x:[0,1],y:[2,3]},
     renderItem:(p,api)=>{
       const a=api.coord([api.value(0),api.value(3)]), b=api.coord([api.value(1),api.value(2)]);
       return {type:'rect',shape:{x:a[0],y:a[1],width:b[0]-a[0],height:b[1]-a[1]},style:{fill:'rgba(255,223,145,.38)',stroke:'#111',lineWidth:1.5}};
     }},
    {name:'volume profile',type:'bar',xAxisIndex:1,yAxisIndex:2,z:6,silent:true,barWidth:'100%',data:profileVolumes,
     itemStyle:{color:'rgba(205,140,190,.5)',borderColor:'rgba(110,110,110,.6)',borderWidth:1}},
    lineS('upper',bbUpper,'#111',1.5,0.25),
    lineS('lower',bbLower,'#111',1.5,0.25),
    lineS('middle',bbMiddle,'#111',1.5,0.25),
    lineS('ma green',maGreen,'#3fb53f',1.2,0.3),
    lineS('ma dark red',maDarkRed,'#8a2a12',1.3,0.3),
    lineS('ma purple',maPurple,'#53346e',1.2,0.3),
    lineS('ma navy',maNavy,'#3f5680',1.1,false),
    lineS('ma slow',maSlow,'#b5564a',1.2,0.2),
    lineS('ma fast',maFast,'#dd1212',1.3,0.2),
    {name:'up arrows',type:'scatter',xAxisIndex:0,yAxisIndex:0,z:9,silent:true,
     data:upArrows.map((d,i)=>({value:d,symbolSize:upArrowSizes[i]})),
     symbol:'path://M50 0 L100 50 L70 50 L70 100 L30 100 L30 50 L0 50 Z',
     itemStyle:{color:'#e03a36',borderColor:'#111',borderWidth:1.5,opacity:1}},
    {name:'down arrows',type:'scatter',xAxisIndex:0,yAxisIndex:0,z:9,silent:true,
     data:downArrows.map((d,i)=>({value:d,symbolSize:downArrowSizes[i]})),
     symbol:'path://M30 0 L70 0 L70 50 L100 50 L50 100 L0 50 L30 50 Z',
     itemStyle:{color:'#3d4f78',borderColor:'#111',borderWidth:1.5,opacity:1}},
    lineS('arrow shaft',bigArrowShaft,'#000',5.5,false,9),
    lineS('arrow head',bigArrowHead,'#000',5.5,false,9),
    {name:'price tags',type:'custom',xAxisIndex:0,yAxisIndex:0,z:10,silent:true,clip:false,
     data:tagValues.map(v=>[0,v]),
     renderItem:(p,api)=>{
       const i=p.dataIndex, y=api.coord([0,api.value(1)])[1], r=p.coordSys.x+p.coordSys.width;
       const x0=r-9, x1=r+58, h=8;
       return {type:'group',children:[
         {type:'polygon',shape:{points:[[x0,y],[x0+7,y-h],[x1-2,y-h],[x1,y-h+2],[x1,y+h-2],[x1-2,y+h],[x0+7,y+h]]},style:{fill:tagFills[i]}},
         {type:'text',style:{text:tagTexts[i],x:(x0+x1)/2+3,y:y,align:'center',verticalAlign:'middle',fill:tagInk[i],font:'12px Roboto, sans-serif'}}
       ]};
     }}
  ]
});

const spark = echarts.init(document.getElementById('spark'), null, {renderer:'canvas'});
spark.setOption({
  animation:false,backgroundColor:'#f8f9fb',
  grid:{left:0,right:0,top:0,bottom:0,outerBoundsMode:'none'},
  xAxis:{type:'category',show:false,boundaryGap:false,data:Array.from({length:68},(_,i)=>i)},
  yAxis:{type:'value',show:false,min:6210,max:6898},
  series:[
    {type:'line',data:sparkBlue,symbol:'none',lineStyle:{color:'#1f5fc0',width:1},
     markArea:{silent:true,itemStyle:{color:'#dfeaf5'},data:[[{xAxis:0,yAxis:6548},{xAxis:29,yAxis:6310}]]}},
    {type:'line',data:sparkRed,symbol:'none',lineStyle:{color:'#d9534f',width:1}}
  ]
});
</script>
</body></html>
